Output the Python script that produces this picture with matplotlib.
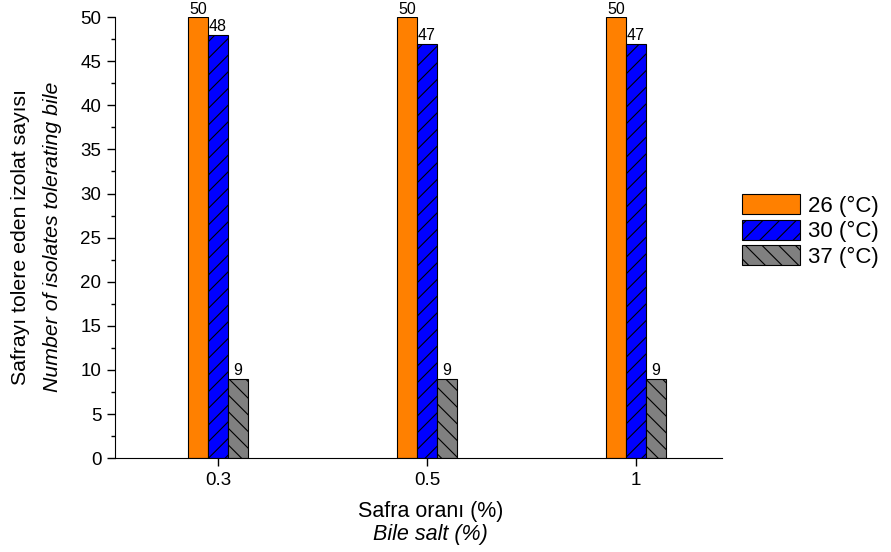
import matplotlib
matplotlib.use("Agg")
import matplotlib.pyplot as plt
from matplotlib.ticker import MultipleLocator
import numpy as np

plt.rcParams['font.family'] = ['Liberation Sans', 'DejaVu Sans']
plt.rcParams['hatch.linewidth'] = 0.8

categories = ["0.3", "0.5", "1"]
series_names = ["26 (°C)", "30 (°C)", "37 (°C)"]
v26 = [50, 50, 50]
v30 = [48, 47, 47]
v37 = [9, 9, 9]

colors = ["#ff8000", "#0000ff", "#808080"]
hatches = [None, "//", "\\\\"]

fig = plt.figure(figsize=(8.91, 5.52), dpi=100)
ax = fig.add_axes([0.129, 0.170, 0.681, 0.799])

x = np.arange(len(categories))
w = 0.095
for i, (vals, c, h, name) in enumerate(zip([v26, v30, v37], colors, hatches, series_names)):
    bars = ax.bar(x + (i - 1) * w, vals, width=w, color=c, edgecolor="black",
                  linewidth=0.8, hatch=h, label=name)
    for b, v in zip(bars, vals):
        ax.text(b.get_x() + b.get_width() / 2, v + 0.05, str(v), ha="center", va="bottom",
                fontsize=11.5)

ax.set_xlim(-0.493, 2.41)
ax.set_ylim(0, 50)
ax.set_xticks(x)
ax.set_xticklabels(categories)
ax.yaxis.set_major_locator(MultipleLocator(5))
ax.yaxis.set_minor_locator(MultipleLocator(2.5))
ax.tick_params(axis="both", labelsize=13.5, direction="out", length=5.8, width=1, pad=4)
ax.tick_params(axis="y", which="minor", length=3, width=1)
for s in ["top", "right"]:
    ax.spines[s].set_visible(False)

# axis titles
fig.text(0.023, 0.571, "Safrayı tolere eden izolat sayısı", rotation=90, ha="center", va="center",
         fontsize=15.3)
fig.text(0.059, 0.571, "Number of isolates tolerating bile", rotation=90, ha="center", va="center",
         fontsize=15.3, style="italic")
fig.text(0.483, 0.074, "Safra oranı (%)", ha="center", va="center", fontsize=15.5)
fig.text(0.483, 0.031, "Bile salt (%)", ha="center", va="center", fontsize=15.5, style="italic")

leg = ax.legend(loc="center left", bbox_to_anchor=(1.033, 0.515), frameon=False, fontsize=16,
                handlelength=2.6, handleheight=1.0, labelspacing=0.13, handletextpad=0.4,
                borderaxespad=0, borderpad=0)

fig.savefig("out.png", dpi=100)
